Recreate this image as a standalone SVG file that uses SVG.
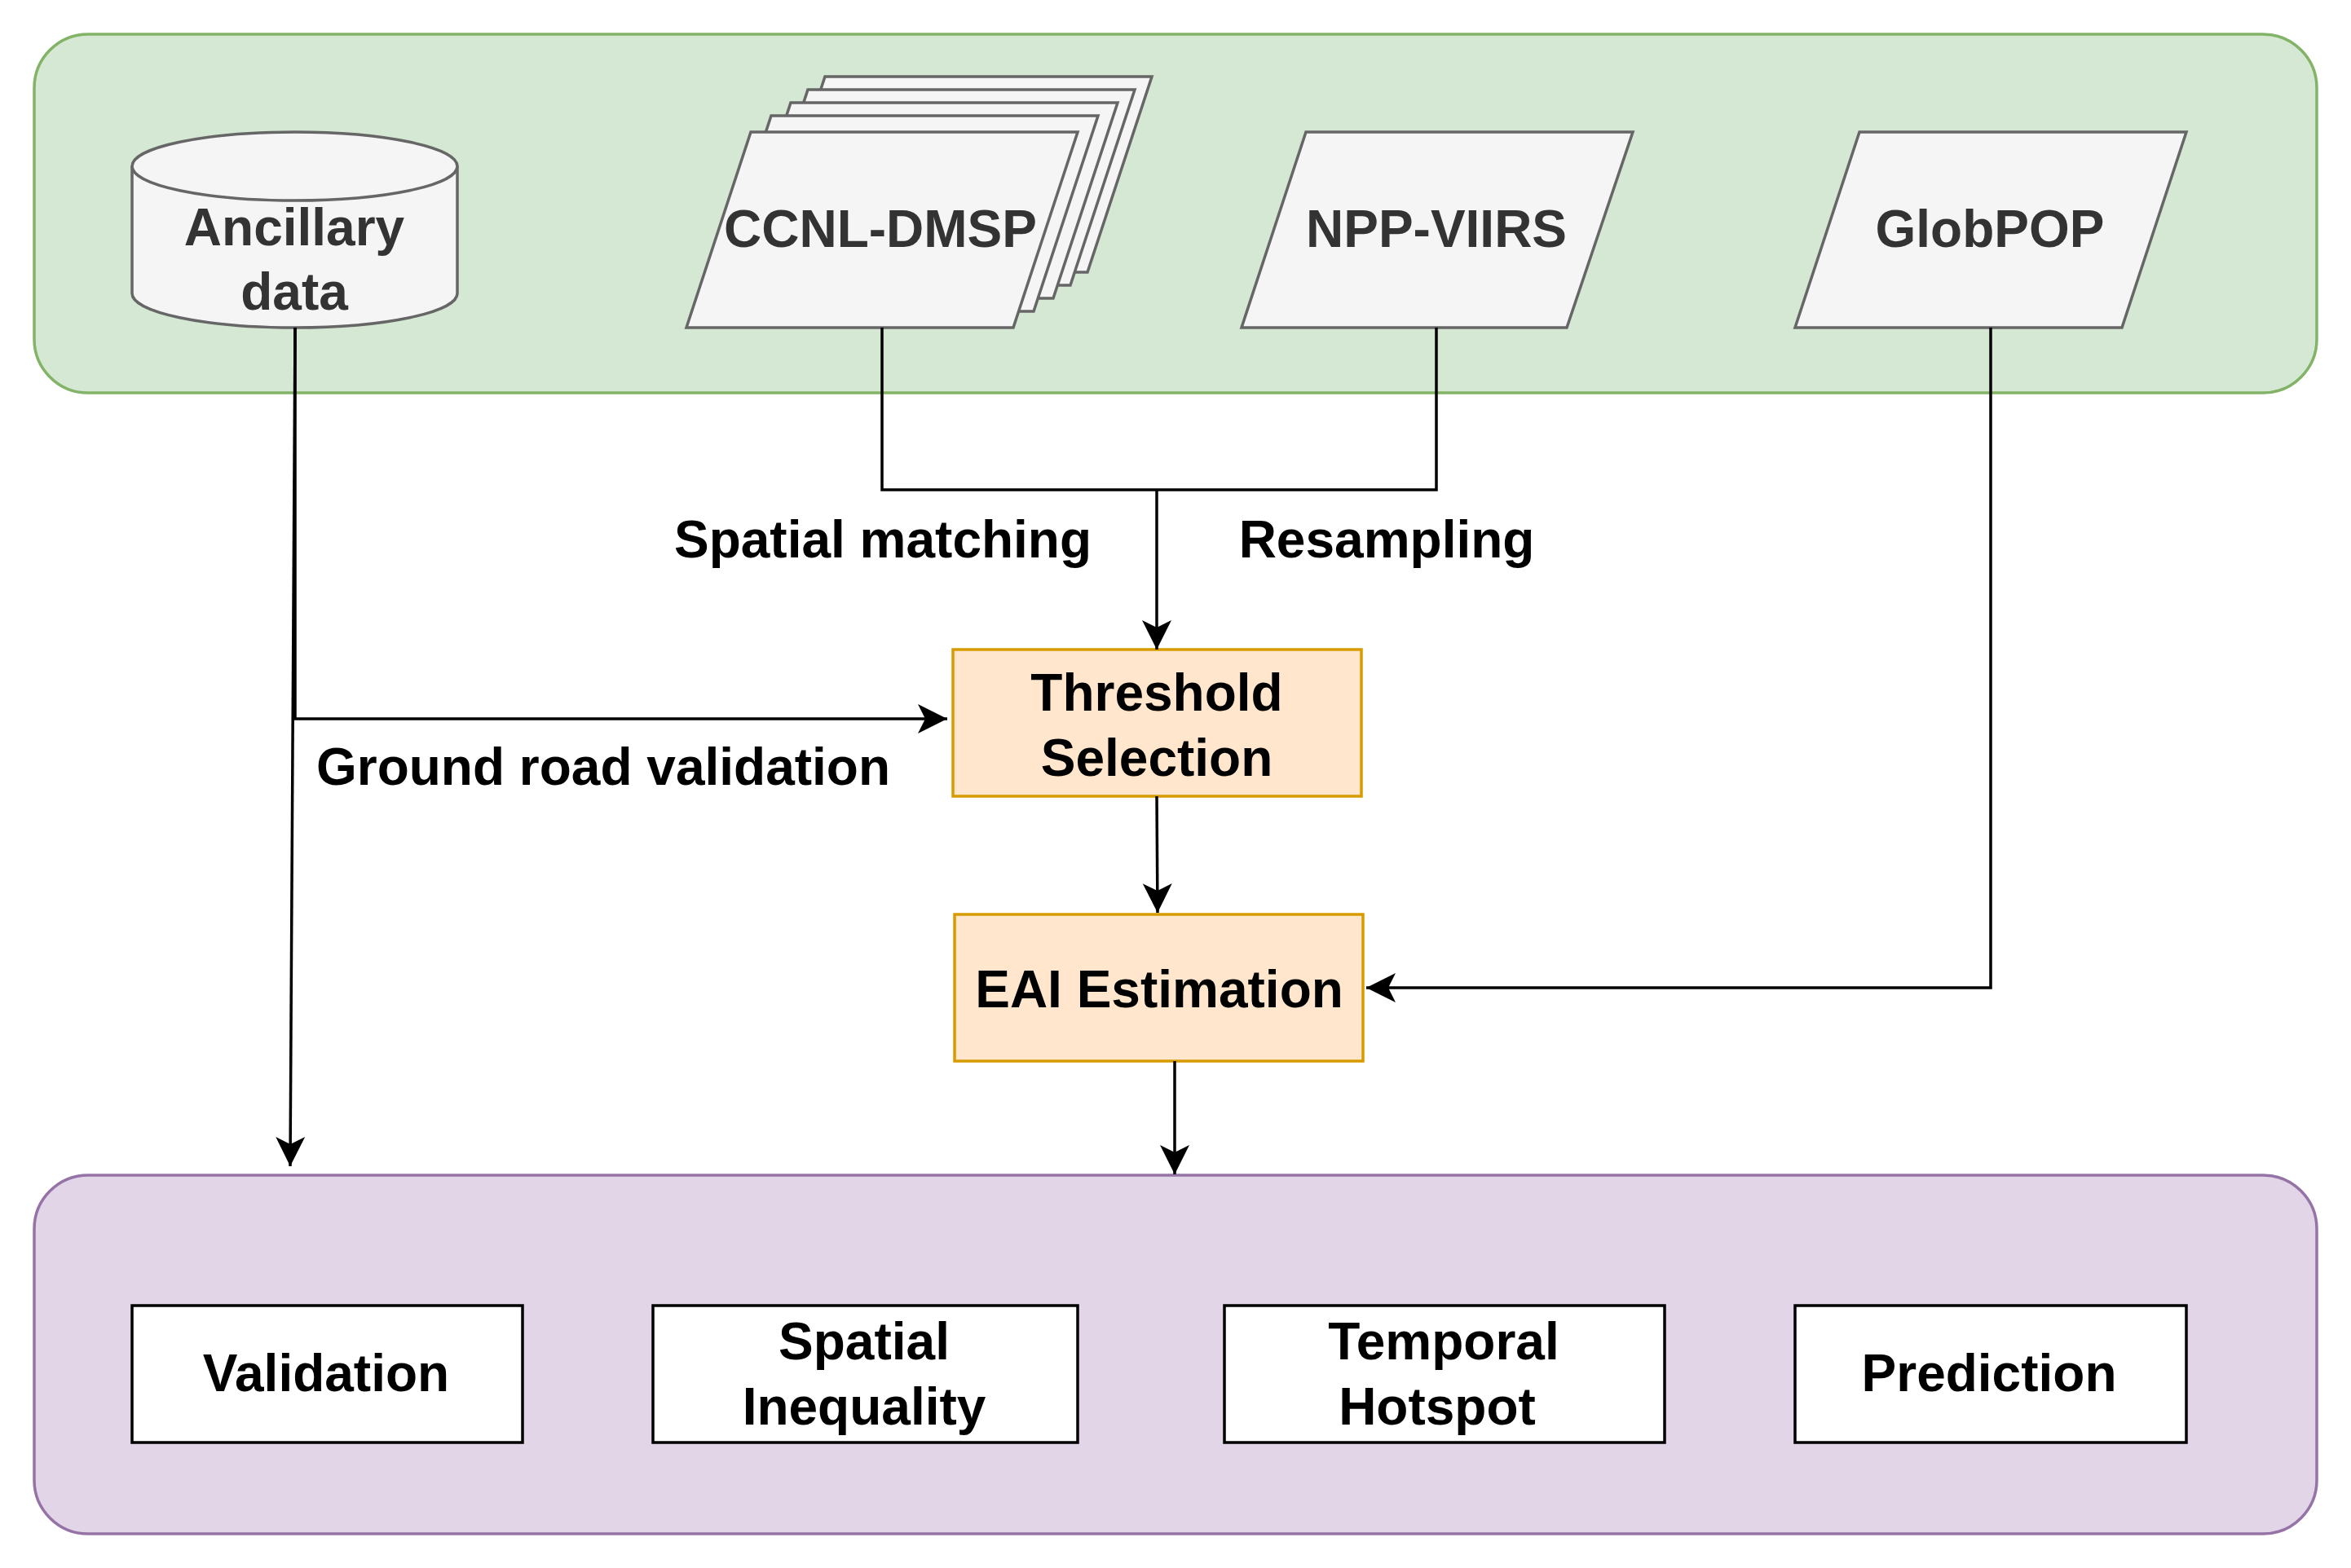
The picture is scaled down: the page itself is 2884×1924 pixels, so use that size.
<svg xmlns="http://www.w3.org/2000/svg" width="2884" height="1924" viewBox="0 0 2884 1924">
<defs>
<style>
.t{font-family:"Liberation Sans",Arial,Helvetica,sans-serif;font-weight:bold;font-size:64px;text-anchor:middle;fill:#000}
.g{fill:#333333}
.data{fill:#f5f5f5;stroke:#666666;stroke-width:3.5}
.proc{fill:#ffe6cc;stroke:#d79b00;stroke-width:3.5}
.out{fill:#ffffff;stroke:#000000;stroke-width:3.5}
.edge{fill:none;stroke:#000000;stroke-width:3.5}
</style>
<marker id="arr" markerUnits="userSpaceOnUse" markerWidth="40" markerHeight="40" viewBox="-38 -20 40 40" refX="0" refY="0" orient="auto">
<path d="M0,0 L-36,-18 L-27,0 L-36,18 Z" fill="#000"/>
</marker>
</defs>
<rect width="2884" height="1924" fill="#ffffff"/>

<g id="input-group">
<rect x="42" y="42" width="2800" height="440" rx="66" ry="66" fill="#d5e8d4" stroke="#82b366" stroke-width="3.5"/>
</g>
<g id="output-group">
<rect x="42" y="1442" width="2800" height="440" rx="66" ry="66" fill="#e1d5e7" stroke="#9673a6" stroke-width="3.5"/>
</g>

<g id="ancillary-data">
<path class="data" d="M162,204 A199.5,42 0 0 1 561,204 L561,360 A199.5,42 0 0 1 162,360 Z"/>
<path class="data" d="M162,204 A199.5,42 0 0 0 561,204" fill="none"/>
<text class="t g" x="361" y="301">Ancillary</text>
<text class="t g" x="361" y="380">data</text>
</g>

<g id="ccnl-dmsp">
<polygon class="data" points="1012,94 1413,94 1334,334 933,334"/>
<polygon class="data" points="991,110 1392,110 1313,350 912,350"/>
<polygon class="data" points="970,126 1371,126 1292,366 891,366"/>
<polygon class="data" points="946,142 1347,142 1268,382 867,382"/>
<polygon class="data" points="921,162 1322,162 1243,402 842,402"/>
<text class="t g" x="1080" y="303">CCNL-DMSP</text>
</g>

<g id="npp-viirs">
<polygon class="data" points="1602,162 2003,162 1922,402 1523,402"/>
<text class="t g" x="1762" y="303">NPP-VIIRS</text>
</g>

<g id="globpop">
<polygon class="data" points="2281,162 2682,162 2603,402 2202,402"/>
<text class="t g" x="2441" y="303">GlobPOP</text>
</g>

<g id="threshold-selection">
<rect class="proc" x="1169" y="797" width="501" height="180"/>
<text class="t" x="1419" y="872">Threshold</text>
<text class="t" x="1419" y="952">Selection</text>
</g>

<g id="eai-estimation">
<rect class="proc" x="1171" y="1122" width="501" height="180"/>
<text class="t" x="1422" y="1236">EAI Estimation</text>
</g>

<g id="validation">
<rect class="out" x="162" y="1602" width="479" height="168"/>
<text class="t" x="400" y="1707">Validation</text>
</g>
<g id="spatial-inequality">
<rect class="out" x="801" y="1602" width="521" height="168"/>
<text class="t" x="1060" y="1668">Spatial</text>
<text class="t" x="1060" y="1748">Inequality</text>
</g>
<g id="temporal-hotspot">
<rect class="out" x="1502" y="1602" width="540" height="168"/>
<text class="t" x="1771" y="1668">Temporal</text>
<text class="t" x="1763" y="1748">Hotspot</text>
</g>
<g id="prediction">
<rect class="out" x="2202" y="1602" width="480" height="168"/>
<text class="t" x="2440" y="1707">Prediction</text>
</g>

<g id="connectors">
<path class="edge" d="M362,402 L362,882 L1162,882" marker-end="url(#arr)"/>
<path class="edge" d="M362,402 L356,1431" marker-end="url(#arr)"/>
<path class="edge" d="M1082,402 L1082,601 L1762,601 L1762,402"/>
<path class="edge" d="M1419,601 L1419,797" marker-end="url(#arr)"/>
<path class="edge" d="M1419,977 L1420,1120" marker-end="url(#arr)"/>
<path class="edge" d="M2442,402 L2442,1212 L1676,1212" marker-end="url(#arr)"/>
<path class="edge" d="M1441,1302 L1441,1441" marker-end="url(#arr)"/>
<text class="t" x="1083" y="684">Spatial matching</text>
<text class="t" x="1701" y="684">Resampling</text>
<text class="t" x="740" y="963">Ground road validation</text>
</g>
</svg>
